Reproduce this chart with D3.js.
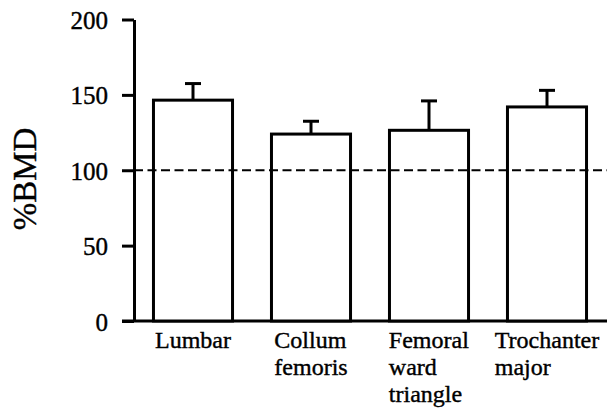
<!DOCTYPE html>
<html>
<head>
<meta charset="utf-8">
<script src="https://cdn.jsdelivr.net/npm/d3@7/dist/d3.min.js"></script>
<style>
  html, body { margin: 0; padding: 0; background: #fff; }
  svg { display: block; }
  svg text { font-family: "Liberation Serif", "Times New Roman", serif; fill: #000; stroke: #000; stroke-width: 0.4px; }
</style>
</head>
<body>
<svg id="chart" width="610" height="411"></svg>
<script>
// ── data ─────────────────────────────────────────────────────────────
var categories = [
    ['Lumbar'],
    ['Collum', 'femoris'],
    ['Femoral', 'ward', 'triangle'],
    ['Trochanter', 'major']
];
var means  = [146.5, 124, 126.5, 142];
var errors = [11, 8.5, 19.5, 11];   // upper error (SD)
var yTicks = [0, 50, 100, 150, 200];
var refLine = 100;

// ── geometry ─────────────────────────────────────────────────────────
var svg = d3.select('#chart');

var x = d3.scaleBand()
    .domain(d3.range(categories.length))
    .range([134, 606])
    .paddingInner(0.33)
    .paddingOuter(0.165);

var y = d3.scaleLinear()
    .domain([0, 200])
    .range([321, 19.5]);

// ── axes ─────────────────────────────────────────────────────────────
var yAxis = svg.append('g')
    .attr('transform', 'translate(134,0)')
    .call(d3.axisLeft(y).tickValues(yTicks).tickSize(12).tickPadding(14).tickSizeOuter(0));
yAxis.attr('font-family', null);
yAxis.select('.domain').attr('stroke', '#000').attr('stroke-width', 3);
yAxis.selectAll('.tick line').attr('stroke', '#000').attr('stroke-width', 3);
yAxis.selectAll('.tick text')
    .attr('dy', '0.36em')
    .style('font-size', '25px');

// x baseline
svg.append('line')
    .attr('x1', 122).attr('x2', 607)
    .attr('y1', y(0)).attr('y2', y(0))
    .attr('stroke', '#000').attr('stroke-width', 3);

// y title
svg.append('text')
    .attr('transform', 'translate(36,' + 179 + ') rotate(-90)')
    .attr('text-anchor', 'middle')
    .style('font-size', '33px')
    .text('%BMD');

// ── bars ─────────────────────────────────────────────────────────────
var bars = svg.append('g');
means.forEach(function (m, i) {
    var cx = x(i) + x.bandwidth() / 2;
    // error bar
    bars.append('line')
        .attr('x1', cx).attr('x2', cx)
        .attr('y1', y(m)).attr('y2', y(m + errors[i]))
        .attr('stroke', '#000').attr('stroke-width', 3);
    bars.append('line')
        .attr('x1', cx - 8).attr('x2', cx + 8)
        .attr('y1', y(m + errors[i])).attr('y2', y(m + errors[i]))
        .attr('stroke', '#000').attr('stroke-width', 3);
    bars.append('rect')
        .attr('x', x(i)).attr('y', y(m))
        .attr('width', x.bandwidth()).attr('height', y(0) - y(m))
        .attr('fill', '#fff')
        .attr('stroke', '#000').attr('stroke-width', 3);
});

// dashed reference line over bars
svg.append('line')
    .attr('x1', 134).attr('x2', 607)
    .attr('y1', y(refLine)).attr('y2', y(refLine))
    .attr('stroke', '#000').attr('stroke-width', 2)
    .attr('stroke-dasharray', '9,4.5');

// ── category labels ──────────────────────────────────────────────────
categories.forEach(function (lines, i) {
    var cx = x(i) + x.bandwidth() / 2;
    var g = svg.append('g');
    var t = g.append('text')
        .style('font-size', '24px');
    lines.forEach(function (ln, k) {
        t.append('tspan').attr('x', 0).attr('y', 348 + k * 27).text(ln);
    });
    var w = t.node().getBBox().width;
    g.attr('transform', 'translate(' + (cx - w / 2) + ',0)');
});
</script>
</body>
</html>
